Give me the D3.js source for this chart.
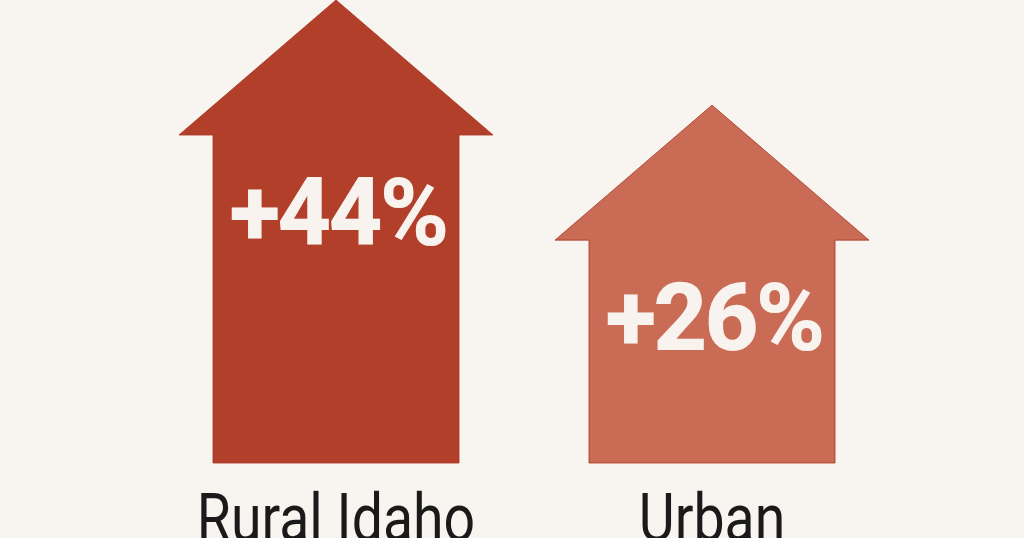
<!DOCTYPE html>
<html>
<head>
<meta charset="utf-8">
<style>
  html, body { margin: 0; padding: 0; background: #f8f5f0; overflow: hidden; }
  svg { display: block; }
</style>
</head>
<body>
<script src="https://cdn.jsdelivr.net/npm/d3@7"></script>
<div id="chart"></div>
<script>
  // data
  var categories = ["Rural Idaho", "Urban"];
  var values = [44, 26];
  var labels = ["+44%", "+26%"];
  var colors = ["#b13f2a", "#c96b55"];

  var width = 1024, height = 538;
  var ground = 463;

  var svg = d3.select("#chart").append("svg")
      .attr("width", width)
      .attr("height", height);

  svg.append("rect")
      .attr("width", width).attr("height", height)
      .attr("fill", "#f8f5f0");

  // x: house centres, y: top of the walls (where the roof sits)
  var x = d3.scalePoint().domain(categories).range([336, 712]);
  var y = d3.scaleLinear().domain([0, 44]).range([392, 135]);

  var bodyW = 246, overhang = 34, roofH = 135;

  var data = categories.map(function(c, i) {
    return {cat: c, value: values[i], label: labels[i], color: colors[i]};
  });

  var house = svg.selectAll("g.house").data(data)
    .enter().append("g")
      .attr("class", "house");

  house.append("path")
      .attr("d", function(d) {
        var cx = x(d.cat), top = y(d.value);
        var l = cx - bodyW / 2, r = cx + bodyW / 2;
        return "M" + l + "," + ground +
               "L" + l + "," + top +
               "L" + (l - overhang) + "," + top +
               "L" + cx + "," + (top - roofH) +
               "L" + (r + overhang) + "," + top +
               "L" + r + "," + top +
               "L" + r + "," + ground + "Z";
      })
      .attr("fill", function(d) { return d.color; })
      .attr("stroke", "#a8301e")
      .attr("stroke-width", 0.8);

  house.append("text")
      .attr("x", function(d) { return x(d.cat) + 2; })
      .attr("y", function(d) { return y(d.value) + 110; })
      .attr("text-anchor", "middle")
      .style("font-family", "Roboto, 'Liberation Sans', sans-serif")
      .style("font-weight", "800")
      .style("font-size", "94px")
      .style("letter-spacing", "-3px")
      .attr("fill", "#f8f3ee")
      .text(function(d) { return d.label; });

  // category names, narrowed to look like a condensed face
  house.append("text")
      .attr("transform", function(d) { return "translate(" + x(d.cat) + ",541) scale(0.84,1)"; })
      .attr("text-anchor", "middle")
      .style("font-family", "Roboto, sans-serif")
      .style("font-size", "66px")
      .attr("fill", "#1a1a1a")
      .text(function(d) { return d.cat; });
</script>
</body>
</html>
